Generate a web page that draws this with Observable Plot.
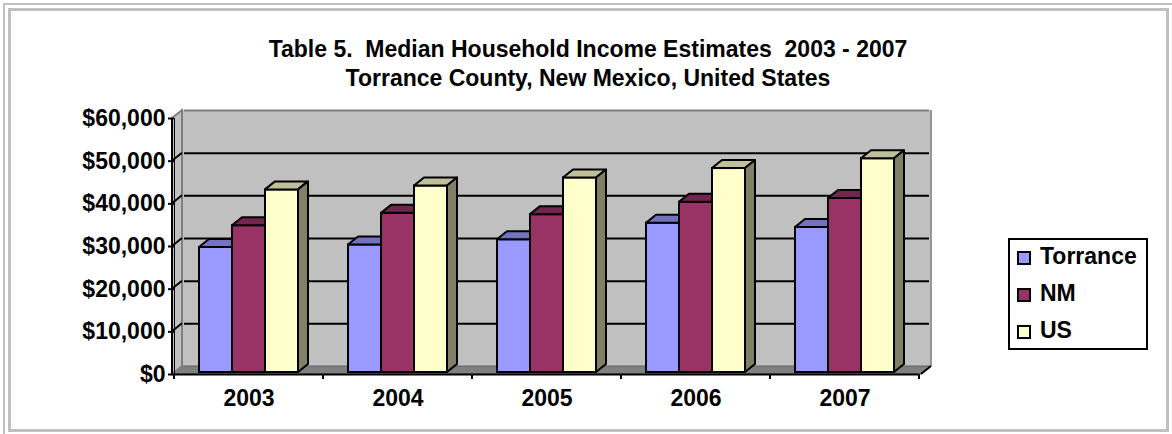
<!DOCTYPE html>
<html>
<head>
<meta charset="utf-8">
<script src="https://cdn.jsdelivr.net/npm/d3@7"></script>
<script src="https://cdn.jsdelivr.net/npm/@observablehq/plot@0.6"></script>
<style>
  body { margin: 0; background: #fff; }
  #wrap { position: relative; width: 1172px; height: 434px; overflow: hidden; font-family: "Liberation Sans", Arial, sans-serif; }
  #wrap > svg { position: absolute; left: 0; top: 0; }
  .frame-outer { position: absolute; left: 3px; top: 3px; width: 1180px; height: 440px; border: 2px solid #c0c0c0; box-sizing: border-box; }
  .frame-inner { position: absolute; left: 8px; top: 8px; width: 1161px; height: 424px; border: 3px solid #c0c0c0; box-sizing: border-box; }
  .title { position: absolute; left: 0; width: 1176px; text-align: center; font-weight: bold; font-size: 23px; line-height: 29px; white-space: pre; color: #000; }
  .legend-box { position: absolute; left: 1008px; top: 238px; width: 140px; height: 112px; border: 2px solid #000; box-sizing: border-box; background: #fff; }
  .sw { position: absolute; width: 14px; height: 14px; border: 2px solid #000; box-sizing: border-box; }
  .lt { position: absolute; font-weight: bold; font-size: 23px; line-height: 29px; white-space: pre; color: #000; }
  svg g[aria-label^="y-axis"] line, svg g[aria-label^="y-axis"] path { stroke-width: 2px; }
</style>
</head>
<body>
<div id="wrap">
  <div class="frame-outer"></div>
  <div class="frame-inner"></div>
</div>
<script>
// ---- data ----
const years = ["2003", "2004", "2005", "2006", "2007"];
const seriesNames = ["Torrance", "NM", "US"];
const torrance = [29300, 29900, 31100, 35000, 34000];
const nm = [34400, 37300, 37000, 39900, 40800];
const us = [42800, 43700, 45600, 47800, 50100];
const yTicks = [0, 10000, 20000, 30000, 40000, 50000, 60000];
const gridValues = [10000, 20000, 30000, 40000, 50000];
const seriesColors = ["#9999FF", "#993366", "#FFFFCC"];
const titleLines = ["Table 5.  Median Household Income Estimates  2003 - 2007", "Torrance County, New Mexico, United States"];

const rows = years.flatMap((year, i) =>
  [torrance, nm, us].map((arr, j) => ({ year, series: seriesNames[j], value: arr[i] }))
);

// depth offset of the 3D effect
const DX = 10, DY = -8;

const chart = Plot.plot({
  width: 1172,
  height: 434,
  marginLeft: 172,
  marginRight: 251,
  marginTop: 118,
  marginBottom: 60,
  style: "font-family:'Liberation Sans',Arial,sans-serif;font-size:23px;font-weight:bold;color:#000;background:transparent;overflow:visible;",
  facet: { data: rows, x: "year" },
  fx: { domain: years, padding: 0, axis: "bottom", label: null, tickSize: 0, tickPadding: 15 },
  x: { domain: seriesNames, paddingInner: 0, paddingOuter: 0.75, axis: null },
  y: { domain: [0, 60000], ticks: yTicks, tickFormat: d3.format("$,"), tickSize: 6, tickPadding: 3, label: null, line: true },
  color: { domain: seriesNames, range: seriesColors },
  marks: [
    Plot.ruleY(gridValues, { stroke: "#000", strokeWidth: 2, dx: DX, dy: DY }),
    Plot.ruleY([60000], { stroke: "#808080", strokeWidth: 2, dx: DX, dy: DY }),
    Plot.barY(rows, { x: "series", y: "value", fill: "series", stroke: "#000", strokeWidth: 2, dy: -2 }),
    Plot.ruleY([0], { stroke: "#000", strokeWidth: 2 })
  ]
});
document.getElementById("wrap").appendChild(chart);

// ---- 3D decoration derived from the scales ----
const NS = "http://www.w3.org/2000/svg";
function el(tag, attrs, parent) {
  const e = document.createElementNS(NS, tag);
  for (const k in attrs) e.setAttribute(k, attrs[k]);
  if (parent) parent.appendChild(e);
  return e;
}
function shade(c, k) {
  const r = d3.rgb(c);
  return d3.rgb(r.r * k, r.g * k, r.b * k).formatHex();
}
const fxs = chart.scale("fx");
const ys = chart.scale("y");
const xL = fxs ? fxs.range[0] : 172;
const xR = fxs ? fxs.range[1] : 921;
const y0 = ys.apply(0);
const yTop = ys.apply(60000);

const before = el("g", { "aria-label": "3d-walls" });
// back wall
el("rect", { x: xL + DX, y: yTop + DY, width: xR - xL, height: y0 - yTop, fill: "#c0c0c0" }, before);
// floor
el("polygon", { points: `${xL},${y0} ${xR},${y0} ${xR + DX},${y0 + DY} ${xL + DX},${y0 + DY}`, fill: "#808080", stroke: "#606060", "stroke-width": 1 }, before);
// left wall
el("polygon", { points: `${xL},${y0} ${xL},${yTop} ${xL + DX},${yTop + DY} ${xL + DX},${y0 + DY}`, fill: "#c0c0c0", stroke: "#808080", "stroke-width": 2 }, before);
for (const v of gridValues) {
  const yy = ys.apply(v);
  el("line", { x1: xL, y1: yy, x2: xL + DX, y2: yy + DY, stroke: "#000", "stroke-width": 2 }, before);
}
// category separator ticks
if (fxs) {
  const edges = fxs.domain.map(d => fxs.apply(d)).concat([fxs.apply(fxs.domain[fxs.domain.length - 1]) + fxs.bandwidth]);
  for (const ex of edges) el("line", { x1: ex, y1: y0, x2: ex, y2: y0 + 5, stroke: "#000", "stroke-width": 2 }, before);
}
const firstFacet = chart.querySelector('g[aria-label="facet"]');
if (firstFacet) chart.insertBefore(before, firstFacet); else chart.insertBefore(before, chart.firstChild);

// front edges
const after = el("g", { "aria-label": "3d-edges" }, chart);
el("line", { x1: xL, y1: y0, x2: xL, y2: yTop, stroke: "#000", "stroke-width": 2 }, after);
el("line", { x1: xR + DX, y1: y0 + DY, x2: xR + DX, y2: yTop + DY, stroke: "#969696", "stroke-width": 2 }, after);
el("line", { x1: xR, y1: y0, x2: xR + DX, y2: y0 + DY, stroke: "#000", "stroke-width": 2 }, after);

// bar top and side faces
chart.querySelectorAll('g[aria-label="bar"] rect').forEach(rect => {
  const x = +rect.getAttribute("x"), y = +rect.getAttribute("y");
  const w = +rect.getAttribute("width"), h = +rect.getAttribute("height");
  const fill = rect.getAttribute("fill") || "#999";
  const next = rect.nextSibling;
  const parent = rect.parentNode;
  const top = el("polygon", { points: `${x},${y} ${x + w},${y} ${x + w + DX},${y + DY} ${x + DX},${y + DY}`, fill: shade(fill, 0.75), stroke: "#000", "stroke-width": 2, "stroke-linejoin": "round" });
  const side = el("polygon", { points: `${x + w},${y} ${x + w},${y + h} ${x + w + DX},${y + h + DY} ${x + w + DX},${y + DY}`, fill: shade(fill, 0.5), stroke: "#000", "stroke-width": 2, "stroke-linejoin": "round" });
  parent.insertBefore(top, next);
  parent.insertBefore(side, next);
});

// ---- title and legend ----
const wrap = document.getElementById("wrap");
titleLines.forEach((t, i) => {
  const d = document.createElement("div");
  d.className = "title";
  d.style.top = (35 + 29 * i) + "px";
  d.textContent = t;
  wrap.appendChild(d);
});
const lb = document.createElement("div");
lb.className = "legend-box";
wrap.appendChild(lb);
seriesNames.forEach((name, i) => {
  const sw = document.createElement("div");
  sw.className = "sw";
  sw.style.left = "1017px";
  sw.style.top = (251 + 37 * i) + "px";
  sw.style.background = seriesColors[i];
  wrap.appendChild(sw);
  const t = document.createElement("div");
  t.className = "lt";
  t.style.left = "1040px";
  t.style.top = (242 + 37 * i) + "px";
  t.textContent = name;
  wrap.appendChild(t);
});
</script>
</body>
</html>
